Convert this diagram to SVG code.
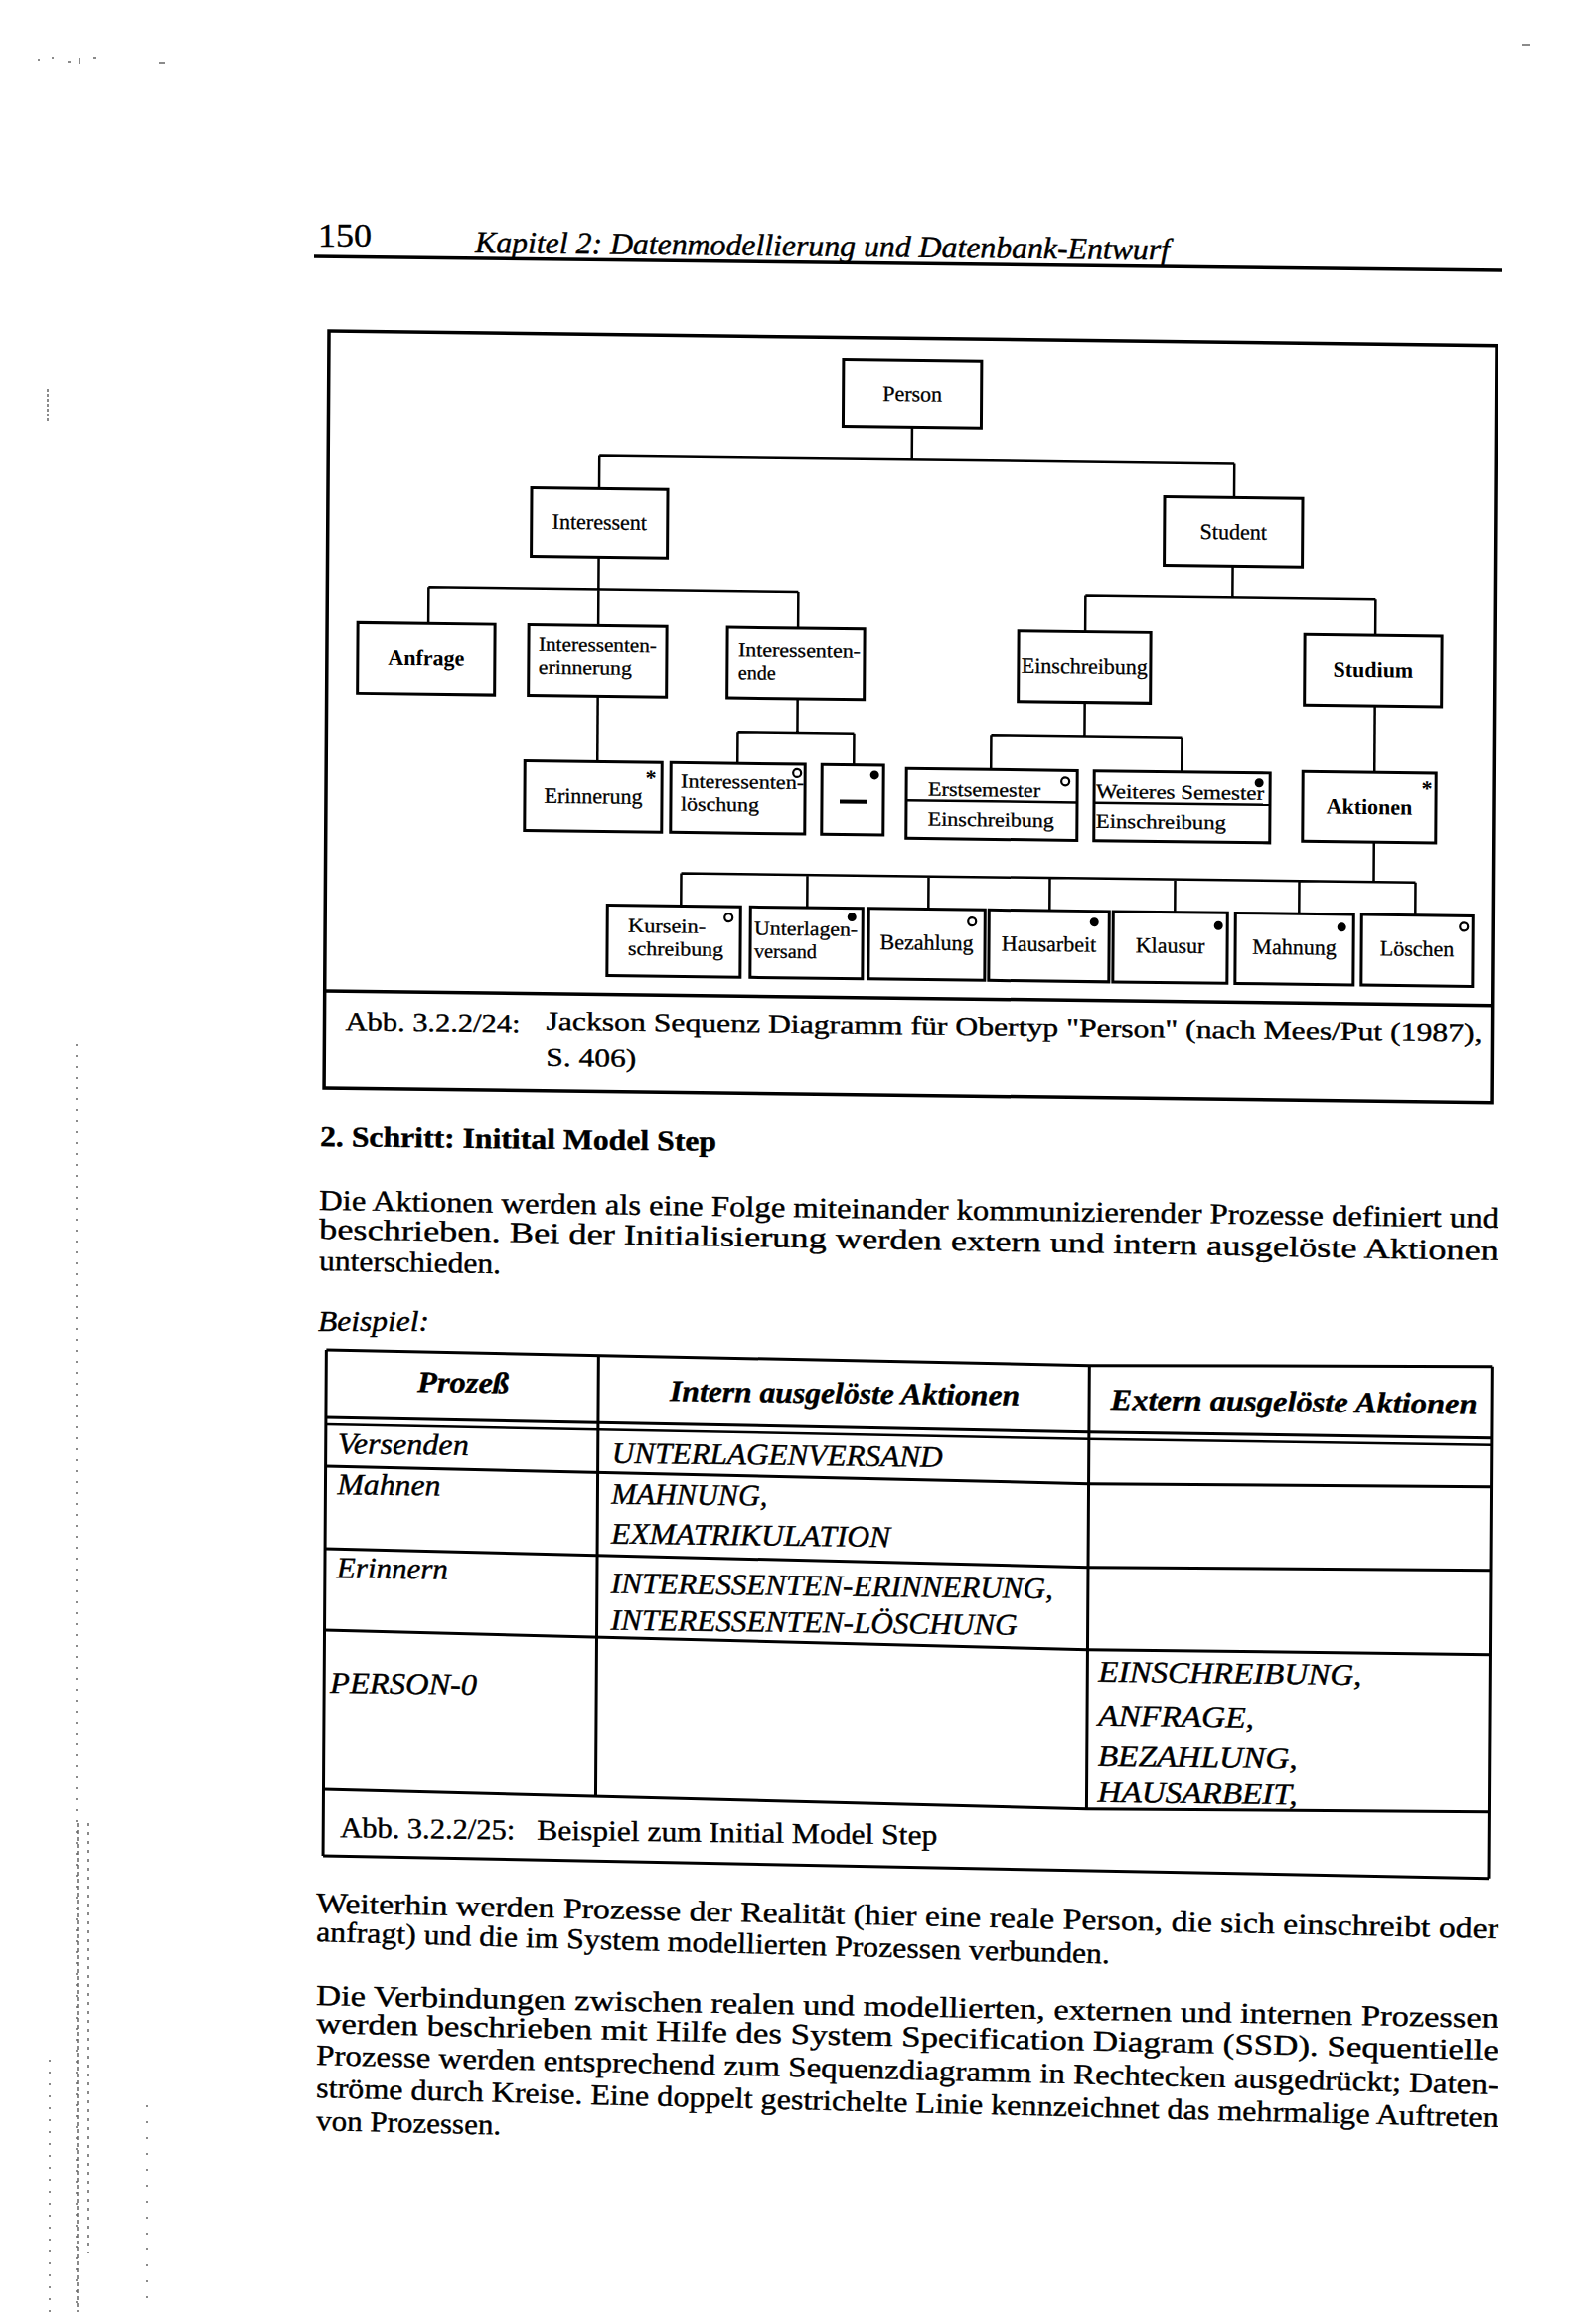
<svg xmlns="http://www.w3.org/2000/svg" width="1587" height="2338" viewBox="0 0 1587 2338">
<style>
.bg{fill:#fff}
.box{fill:#fff;stroke:#000;stroke-width:3}
.frame{fill:none;stroke:#000;stroke-width:3.5}
.ln{fill:none;stroke:#000;stroke-width:2.5}
.tl{fill:none;stroke:#000;stroke-width:3}
.nt{font-family:"Liberation Serif","Times New Roman",serif;font-size:22px;fill:#000;stroke:#000;stroke-width:0.3px}
.n2{font-family:"Liberation Serif","Times New Roman",serif;font-size:20px;fill:#000;stroke:#000;stroke-width:0.3px}
.nb{font-family:"Liberation Serif","Times New Roman",serif;font-size:22px;font-weight:bold;fill:#000}
.mid{text-anchor:middle}
.body{font-family:"Liberation Serif","Times New Roman",serif;font-size:29px;fill:#000;stroke:#000;stroke-width:0.4px}
.cap{font-size:26px}
.it{font-style:italic}
.bd{font-weight:bold}
.tab{font-family:"Liberation Serif","Times New Roman",serif;font-size:30px;font-style:italic;fill:#000;stroke:#000;stroke-width:0.4px}
.ring{fill:#fff;stroke:#000;stroke-width:2.2}
.dot{fill:#000}
.ast{font-family:"Liberation Serif",serif;font-size:22px;font-weight:bold;text-anchor:middle}
.noise{fill:none;stroke:#666;stroke-width:1.5}
</style>
<rect class="bg" x="0" y="0" width="1587" height="2338"/>

<!-- scan marks in margin -->
<g id="scan-marks">
<path class="noise" d="M77 1050 V2326" stroke-dasharray="2 9"/>
<path class="noise" d="M78 1834 V2326" stroke-dasharray="4 3"/>
<path class="noise" d="M89 1834 V2267" stroke-dasharray="3 6"/>
<path class="noise" d="M50 2072 V2326" stroke-dasharray="2 10"/>
<path class="noise" d="M148 2118 V2326" stroke-dasharray="2 14"/>
<path class="noise" d="M48 391 V425" stroke-dasharray="3 2"/>
<path class="noise" d="M38 60 h2 M52 58 h2 M68 62 h3 M80 58 v6 M94 58 h3 M160 63 h6 M1532 45 h8"/>
</g>

<!-- page header -->
<g id="header">
<text class="body" x="320" y="248" style="font-size:34px" textLength="54" lengthAdjust="spacingAndGlyphs">150</text>
<text class="body it" x="478" y="254" style="font-size:31px" transform="rotate(0.6 478 254)" textLength="699" lengthAdjust="spacingAndGlyphs">Kapitel 2: Datenmodellierung und Datenbank-Entwurf</text>
<line x1="316" y1="258" x2="1512" y2="272" stroke="#000" stroke-width="3.5"/>
</g>

<!-- Figure 3.2.2/24 -->
<g id="figure24" transform="matrix(1 0.0125 -0.0065 1 2.19 -4.14)">
<rect class="frame" x="331" y="333" width="1175" height="762"/>
<line class="frame" x1="331" y1="997" x2="1506" y2="997"/>

<g id="connectors">
<path class="ln" d="M918.5 423 V455 M604 455 H1243 M604 455 V488 M1243 455 V489"/>
<path class="ln" d="M604 557 V590 M433 590 H805 M433 590 V626 M604 590 V626 M805 590 V626"/>
<path class="ln" d="M1242 558 V590 M1094 590 H1386 M1094 590 V626 M1386 590 V626"/>
<path class="ln" d="M604 697 V763"/>
<path class="ln" d="M805 697 V731 M745 731 H862 M745 731 V763 M862 731 V763"/>
<path class="ln" d="M1094 697 V731 M1000 731 H1192 M1000 731 V766 M1192 731 V766"/>
<path class="ln" d="M1386 697 V764"/>
<path class="ln" d="M1386 834 V874 M689 874 H1428 M689 874 V907 M816 874 V907 M938 874 V907 M1060 874 V907 M1186 874 V907 M1311 874 V907 M1428 874 V907"/>
</g>

<g id="n-person"><rect class="box" x="849" y="355" width="139" height="68"/><text class="nt mid" x="918.5" y="396">Person</text></g>
<g id="n-interessent"><rect class="box" x="536" y="488" width="137" height="69"/><text class="nt mid" x="604.5" y="529">Interessent</text></g>
<g id="n-student"><rect class="box" x="1173" y="489" width="139" height="69"/><text class="nt mid" x="1242.5" y="531">Student</text></g>

<g id="n-anfrage"><rect class="box" x="362" y="626" width="138" height="71"/><text class="nb mid" x="431" y="668">Anfrage</text></g>
<g id="n-int-erinnerung"><rect class="box" x="534" y="626" width="139" height="71"/><text class="n2" x="544" y="652" textLength="119" lengthAdjust="spacingAndGlyphs">Interessenten-</text><text class="n2" x="544" y="675" textLength="94" lengthAdjust="spacingAndGlyphs">erinnerung</text></g>
<g id="n-int-ende"><rect class="box" x="734" y="626" width="138" height="71"/><text class="n2" x="745" y="655" textLength="123" lengthAdjust="spacingAndGlyphs">Interessenten-</text><text class="n2" x="745" y="678" textLength="38" lengthAdjust="spacingAndGlyphs">ende</text></g>
<g id="n-einschreibung"><rect class="box" x="1027" y="626" width="133" height="71"/><text class="nt mid" x="1093.5" y="668">Einschreibung</text></g>
<g id="n-studium"><rect class="box" x="1315" y="626" width="138" height="71"/><text class="nb mid" x="1384" y="668">Studium</text></g>

<g id="n-erinnerung"><rect class="box" x="531" y="763" width="138" height="70"/><text class="nt mid" x="600" y="805">Erinnerung</text><text class="ast" x="658" y="786">*</text></g>
<g id="n-int-loeschung"><rect class="box" x="678" y="763" width="135" height="70"/><text class="n2" x="688" y="788" textLength="124" lengthAdjust="spacingAndGlyphs">Interessenten-</text><text class="n2" x="688" y="811" textLength="79" lengthAdjust="spacingAndGlyphs">löschung</text><circle class="ring" cx="805" cy="772" r="4"/></g>
<g id="n-leer"><rect class="box" x="830" y="763" width="62" height="70"/><line x1="848" y1="800" x2="875" y2="800" stroke="#000" stroke-width="4"/><circle class="dot" cx="883" cy="773" r="4.5"/></g>
<g id="n-erstsemester"><rect class="box" x="915" y="766" width="172" height="70"/><line class="ln" x1="915" y1="798" x2="1087" y2="798"/><text class="n2" x="937" y="793" textLength="113" lengthAdjust="spacingAndGlyphs">Erstsemester</text><text class="n2" x="937" y="823" textLength="127" lengthAdjust="spacingAndGlyphs">Einschreibung</text><circle class="ring" cx="1075" cy="777" r="4"/></g>
<g id="n-weiteres"><rect class="box" x="1104" y="766" width="177" height="70"/><line class="ln" x1="1104" y1="798" x2="1281" y2="798"/><text class="n2" x="1106" y="793" textLength="169" lengthAdjust="spacingAndGlyphs">Weiteres Semester</text><text class="n2" x="1106" y="823" textLength="131" lengthAdjust="spacingAndGlyphs">Einschreibung</text><circle class="dot" cx="1270" cy="776" r="4.5"/></g>
<g id="n-aktionen"><rect class="box" x="1314" y="764" width="134" height="70"/><text class="nb mid" x="1381" y="806">Aktionen</text><text class="ast" x="1439" y="787">*</text></g>

<g id="n-kurseinschreibung"><rect class="box" x="615" y="907" width="134" height="71"/><text class="n2" x="636" y="934" textLength="78" lengthAdjust="spacingAndGlyphs">Kursein-</text><text class="n2" x="636" y="957" textLength="96" lengthAdjust="spacingAndGlyphs">schreibung</text><circle class="ring" cx="737" cy="918" r="4"/></g>
<g id="n-unterlagenversand"><rect class="box" x="759" y="907" width="113" height="71"/><text class="n2" x="763" y="935" textLength="104" lengthAdjust="spacingAndGlyphs">Unterlagen-</text><text class="n2" x="763" y="958" textLength="63" lengthAdjust="spacingAndGlyphs">versand</text><circle class="dot" cx="861" cy="916" r="4.5"/></g>
<g id="n-bezahlung"><rect class="box" x="878" y="907" width="117" height="71"/><text class="nt mid" x="936.5" y="948">Bezahlung</text><circle class="ring" cx="982" cy="919" r="4"/></g>
<g id="n-hausarbeit"><rect class="box" x="999" y="907" width="121" height="71"/><text class="nt mid" x="1059.5" y="948">Hausarbeit</text><circle class="dot" cx="1105" cy="918" r="4.5"/></g>
<g id="n-klausur"><rect class="box" x="1124" y="907" width="115" height="71"/><text class="nt mid" x="1181.5" y="948">Klausur</text><circle class="dot" cx="1230" cy="920" r="4.5"/></g>
<g id="n-mahnung"><rect class="box" x="1247" y="907" width="119" height="71"/><text class="nt mid" x="1306.5" y="948">Mahnung</text><circle class="dot" cx="1354" cy="920" r="4.5"/></g>
<g id="n-loeschen"><rect class="box" x="1374" y="907" width="112" height="71"/><text class="nt mid" x="1430" y="948">Löschen</text><circle class="ring" cx="1477" cy="918" r="4"/></g>

<g id="caption24">
<text class="body cap" x="352" y="1036" textLength="176" lengthAdjust="spacingAndGlyphs">Abb. 3.2.2/24:</text>
<text class="body cap" x="554" y="1033" textLength="942" lengthAdjust="spacingAndGlyphs">Jackson Sequenz Diagramm für Obertyp "Person" (nach Mees/Put (1987),</text>
<text class="body cap" x="554" y="1069" textLength="91" lengthAdjust="spacingAndGlyphs">S. 406)</text>
</g>
</g>

<!-- body text -->
<g id="text-block-1">
<text class="body bd" x="322" y="1153" transform="rotate(0.72 322 1153)" textLength="399" lengthAdjust="spacingAndGlyphs">2. Schritt: Initital Model Step</text>
<text class="body" x="321" y="1217" transform="rotate(0.87 321 1217)" textLength="1187" lengthAdjust="spacingAndGlyphs">Die Aktionen werden als eine Folge miteinander kommunizierender Prozesse definiert und</text>
<text class="body" x="321" y="1246" transform="rotate(1.06 321 1246)" textLength="1187" lengthAdjust="spacingAndGlyphs">beschrieben. Bei der Initialisierung werden extern und intern ausgelöste Aktionen</text>
<text class="body" x="321" y="1278" transform="rotate(1.0 321 1278)" textLength="183" lengthAdjust="spacingAndGlyphs">unterschieden.</text>
<text class="body it" x="320" y="1339" textLength="112" lengthAdjust="spacingAndGlyphs">Beispiel:</text>
</g>

<!-- Table 3.2.2/25 -->
<g id="table25" transform="matrix(1 0.0125 -0.0065 1 2.19 -4.14)">
<path class="tl" d="M335 1358 L1103 1364 L1508 1360"/>
<path class="tl" d="M335 1426 L1103 1431 L1508 1432"/>
<path class="ln" d="M335 1433 L1103 1438 L1508 1439"/>
<path class="tl" d="M335 1475 L1103 1483 L1508 1481"/>
<path class="tl" d="M335 1558 L1103 1567 L1508 1565"/>
<path class="tl" d="M335 1640 L1103 1650 L1508 1650"/>
<path class="tl" d="M335 1800 L1103 1810 L1508 1808"/>
<path class="tl" d="M335 1867 L1508 1875"/>
<path class="tl" d="M335 1358 V1867 M609 1360 V1803 M1103 1364 V1810 M1508 1360 V1875"/>

<text class="tab bd" x="473" y="1399" text-anchor="middle" textLength="92" lengthAdjust="spacingAndGlyphs">Prozeß</text>
<text class="tab bd" x="857" y="1405" text-anchor="middle" textLength="352" lengthAdjust="spacingAndGlyphs">Intern ausgelöste Aktionen</text>
<text class="tab bd" x="1309" y="1408" text-anchor="middle" textLength="369" lengthAdjust="spacingAndGlyphs">Extern ausgelöste Aktionen</text>

<text class="tab" x="347" y="1462" textLength="132" lengthAdjust="spacingAndGlyphs">Versenden</text>
<text class="tab" x="623" y="1468" textLength="333" lengthAdjust="spacingAndGlyphs">UNTERLAGENVERSAND</text>
<text class="tab" x="347" y="1503" textLength="104" lengthAdjust="spacingAndGlyphs">Mahnen</text>
<text class="tab" x="623" y="1509" textLength="157" lengthAdjust="spacingAndGlyphs">MAHNUNG,</text>
<text class="tab" x="623" y="1549" textLength="281" lengthAdjust="spacingAndGlyphs">EXMATRIKULATION</text>
<text class="tab" x="347" y="1587" textLength="112" lengthAdjust="spacingAndGlyphs">Erinnern</text>
<text class="tab" x="623" y="1599" textLength="445" lengthAdjust="spacingAndGlyphs">INTERESSENTEN-ERINNERUNG,</text>
<text class="tab" x="623" y="1636" textLength="409" lengthAdjust="spacingAndGlyphs">INTERESSENTEN-LÖSCHUNG</text>
<text class="tab" x="341" y="1703" textLength="148" lengthAdjust="spacingAndGlyphs">PERSON-0</text>
<text class="tab" x="1114" y="1682" textLength="265" lengthAdjust="spacingAndGlyphs">EINSCHREIBUNG,</text>
<text class="tab" x="1114" y="1726" textLength="157" lengthAdjust="spacingAndGlyphs">ANFRAGE,</text>
<text class="tab" x="1114" y="1767" textLength="201" lengthAdjust="spacingAndGlyphs">BEZAHLUNG,</text>
<text class="tab" x="1114" y="1803" textLength="201" lengthAdjust="spacingAndGlyphs">HAUSARBEIT,</text>

<text class="body" x="352" y="1848" textLength="176" lengthAdjust="spacingAndGlyphs">Abb. 3.2.2/25:</text>
<text class="body" x="550" y="1848" textLength="403" lengthAdjust="spacingAndGlyphs">Beispiel zum Initial Model Step</text>
</g>

<g id="text-block-2">
<text class="body" x="318" y="1924" transform="rotate(1.25 318 1924)" textLength="1190" lengthAdjust="spacingAndGlyphs">Weiterhin werden Prozesse der Realität (hier eine reale Person, die sich einschreibt oder</text>
<text class="body" x="318" y="1953" transform="rotate(1.6 318 1953)" textLength="799" lengthAdjust="spacingAndGlyphs">anfragt) und die im System modellierten Prozessen verbunden.</text>
<text class="body" x="318" y="2017" transform="rotate(1.1 318 2017)" textLength="1190" lengthAdjust="spacingAndGlyphs">Die Verbindungen zwischen realen und modellierten, externen und internen Prozessen</text>
<text class="body" x="318" y="2045" transform="rotate(1.3 318 2045)" textLength="1190" lengthAdjust="spacingAndGlyphs">werden beschrieben mit Hilfe des System Specification Diagram (SSD). Sequentielle</text>
<text class="body" x="318" y="2077" transform="rotate(1.44 318 2077)" textLength="1190" lengthAdjust="spacingAndGlyphs">Prozesse werden entsprechend zum Sequenzdiagramm in Rechtecken ausgedrückt; Daten-</text>
<text class="body" x="318" y="2110" transform="rotate(1.44 318 2110)" textLength="1190" lengthAdjust="spacingAndGlyphs">ströme durch Kreise. Eine doppelt gestrichelte Linie kennzeichnet das mehrmalige Auftreten</text>
<text class="body" x="318" y="2143" transform="rotate(1.4 318 2143)" textLength="186" lengthAdjust="spacingAndGlyphs">von Prozessen.</text>
</g>
</svg>
